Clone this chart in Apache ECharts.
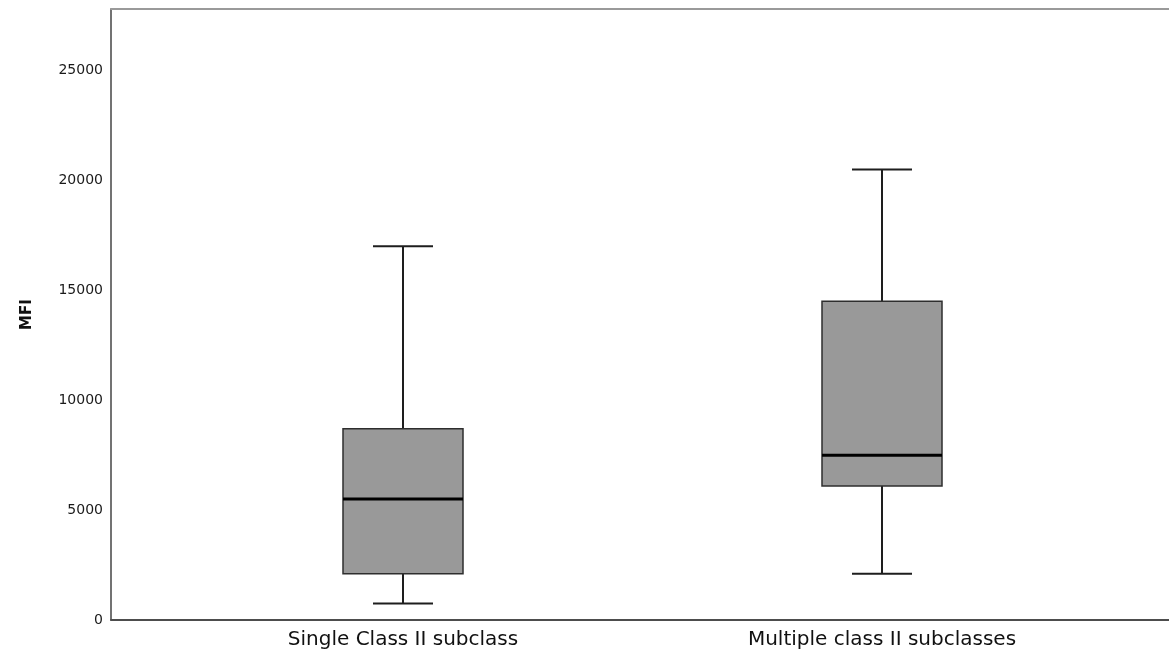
<!DOCTYPE html>
<html>
<head>
<meta charset="utf-8">
<title>MFI by class II subclass group</title>
<script src="https://cdn.jsdelivr.net/npm/echarts@6/dist/echarts.min.js"></script>
<style>
  html, body { margin: 0; padding: 0; background: #ffffff; }
  #chart { width: 1169px; height: 655px; }
</style>
</head>
<body>
<div id="chart"></div>
<script>
// Groups on the horizontal axis
const categories = ['Single Class II subclass', 'Multiple class II subclasses'];

// Five-number summaries of MFI for each group
const whiskerLow  = [750, 2100];
const quartile1   = [2100, 6100];
const medians     = [5500, 7500];
const quartile3   = [8700, 14500];
const whiskerHigh = [17000, 20500];

// Value axis
const yMin = 0;
const yMax = 27800;
const yInterval = 5000;

const boxRows = categories.map((c, i) => [
  i, whiskerLow[i], quartile1[i], medians[i], quartile3[i], whiskerHigh[i]
]);

const BOX_W = 120;
const CAP_W = 60;

function renderBox(params, api) {
  const i = api.value(0);
  const pLow = api.coord([i, api.value(1)]);
  const pQ1 = api.coord([i, api.value(2)]);
  const pMed = api.coord([i, api.value(3)]);
  const pQ3 = api.coord([i, api.value(4)]);
  const pHigh = api.coord([i, api.value(5)]);
  const cx = pMed[0];
  const whiskerStyle = { stroke: '#1e1e1e', lineWidth: 2 };
  return {
    type: 'group',
    children: [
      { type: 'line', shape: { x1: cx, y1: pHigh[1], x2: cx, y2: pQ3[1] }, style: whiskerStyle },
      { type: 'line', shape: { x1: cx, y1: pQ1[1], x2: cx, y2: pLow[1] }, style: whiskerStyle },
      { type: 'line', shape: { x1: cx - CAP_W / 2, y1: pHigh[1], x2: cx + CAP_W / 2, y2: pHigh[1] }, style: whiskerStyle },
      { type: 'line', shape: { x1: cx - CAP_W / 2, y1: pLow[1], x2: cx + CAP_W / 2, y2: pLow[1] }, style: whiskerStyle },
      {
        type: 'rect',
        shape: { x: cx - BOX_W / 2, y: pQ3[1], width: BOX_W, height: pQ1[1] - pQ3[1] },
        style: { fill: '#999999', stroke: '#2e2e2e', lineWidth: 1.5 }
      },
      {
        type: 'line',
        shape: { x1: cx - BOX_W / 2, y1: pMed[1], x2: cx + BOX_W / 2, y2: pMed[1] },
        style: { stroke: '#000000', lineWidth: 3 }
      }
    ]
  };
}

const chart = echarts.init(document.getElementById('chart'), null, { renderer: 'canvas' });

chart.setOption({
  animation: false,
  backgroundColor: '#ffffff',
  grid: [
    // frame with the MFI scale
    { left: 111, right: 0, top: 9, bottom: 35 },
    // plotting band for the two boxes
    { left: 163.5, right: 47.5, top: 9, bottom: 35 }
  ],
  xAxis: [
    {
      gridIndex: 0, type: 'value', min: 0, max: 1, position: 'bottom',
      axisLine: { show: true, lineStyle: { color: '#4d4d4d', width: 2 } },
      axisTick: { show: false }, axisLabel: { show: false }, splitLine: { show: false }
    },
    {
      gridIndex: 0, type: 'value', min: 0, max: 1, position: 'top',
      axisLine: { show: true, lineStyle: { color: '#9a9a9a', width: 2 } },
      axisTick: { show: false }, axisLabel: { show: false }, splitLine: { show: false }
    },
    {
      gridIndex: 1, type: 'category', data: categories, boundaryGap: true,
      axisLine: { show: false }, axisTick: { show: false }, splitLine: { show: false },
      axisLabel: {
        color: '#111111', fontSize: 20, margin: 10,
        fontFamily: 'DejaVu Sans, sans-serif'
      }
    }
  ],
  yAxis: [
    {
      gridIndex: 0, type: 'value', min: yMin, max: yMax, interval: yInterval,
      name: 'MFI', nameLocation: 'middle', nameGap: 76,
      nameTextStyle: { fontSize: 15, fontWeight: 'bold', color: '#111111', fontFamily: 'DejaVu Sans, sans-serif' },
      axisLine: { show: true, lineStyle: { color: '#444444', width: 1.5 } },
      axisTick: { show: false }, splitLine: { show: false },
      axisLabel: {
        color: '#1a1a1a', fontSize: 14, margin: 8,
        fontFamily: 'DejaVu Sans, sans-serif',
        showMaxLabel: false,
        formatter: v => String(v)
      }
    },
    {
      gridIndex: 1, type: 'value', min: yMin, max: yMax, show: false
    }
  ],
  series: [
    {
      type: 'custom',
      xAxisIndex: 2,
      yAxisIndex: 1,
      renderItem: renderBox,
      encode: { x: 0, y: [1, 2, 3, 4, 5] },
      data: boxRows,
      silent: true,
      clip: false
    }
  ]
});
</script>
</body>
</html>
